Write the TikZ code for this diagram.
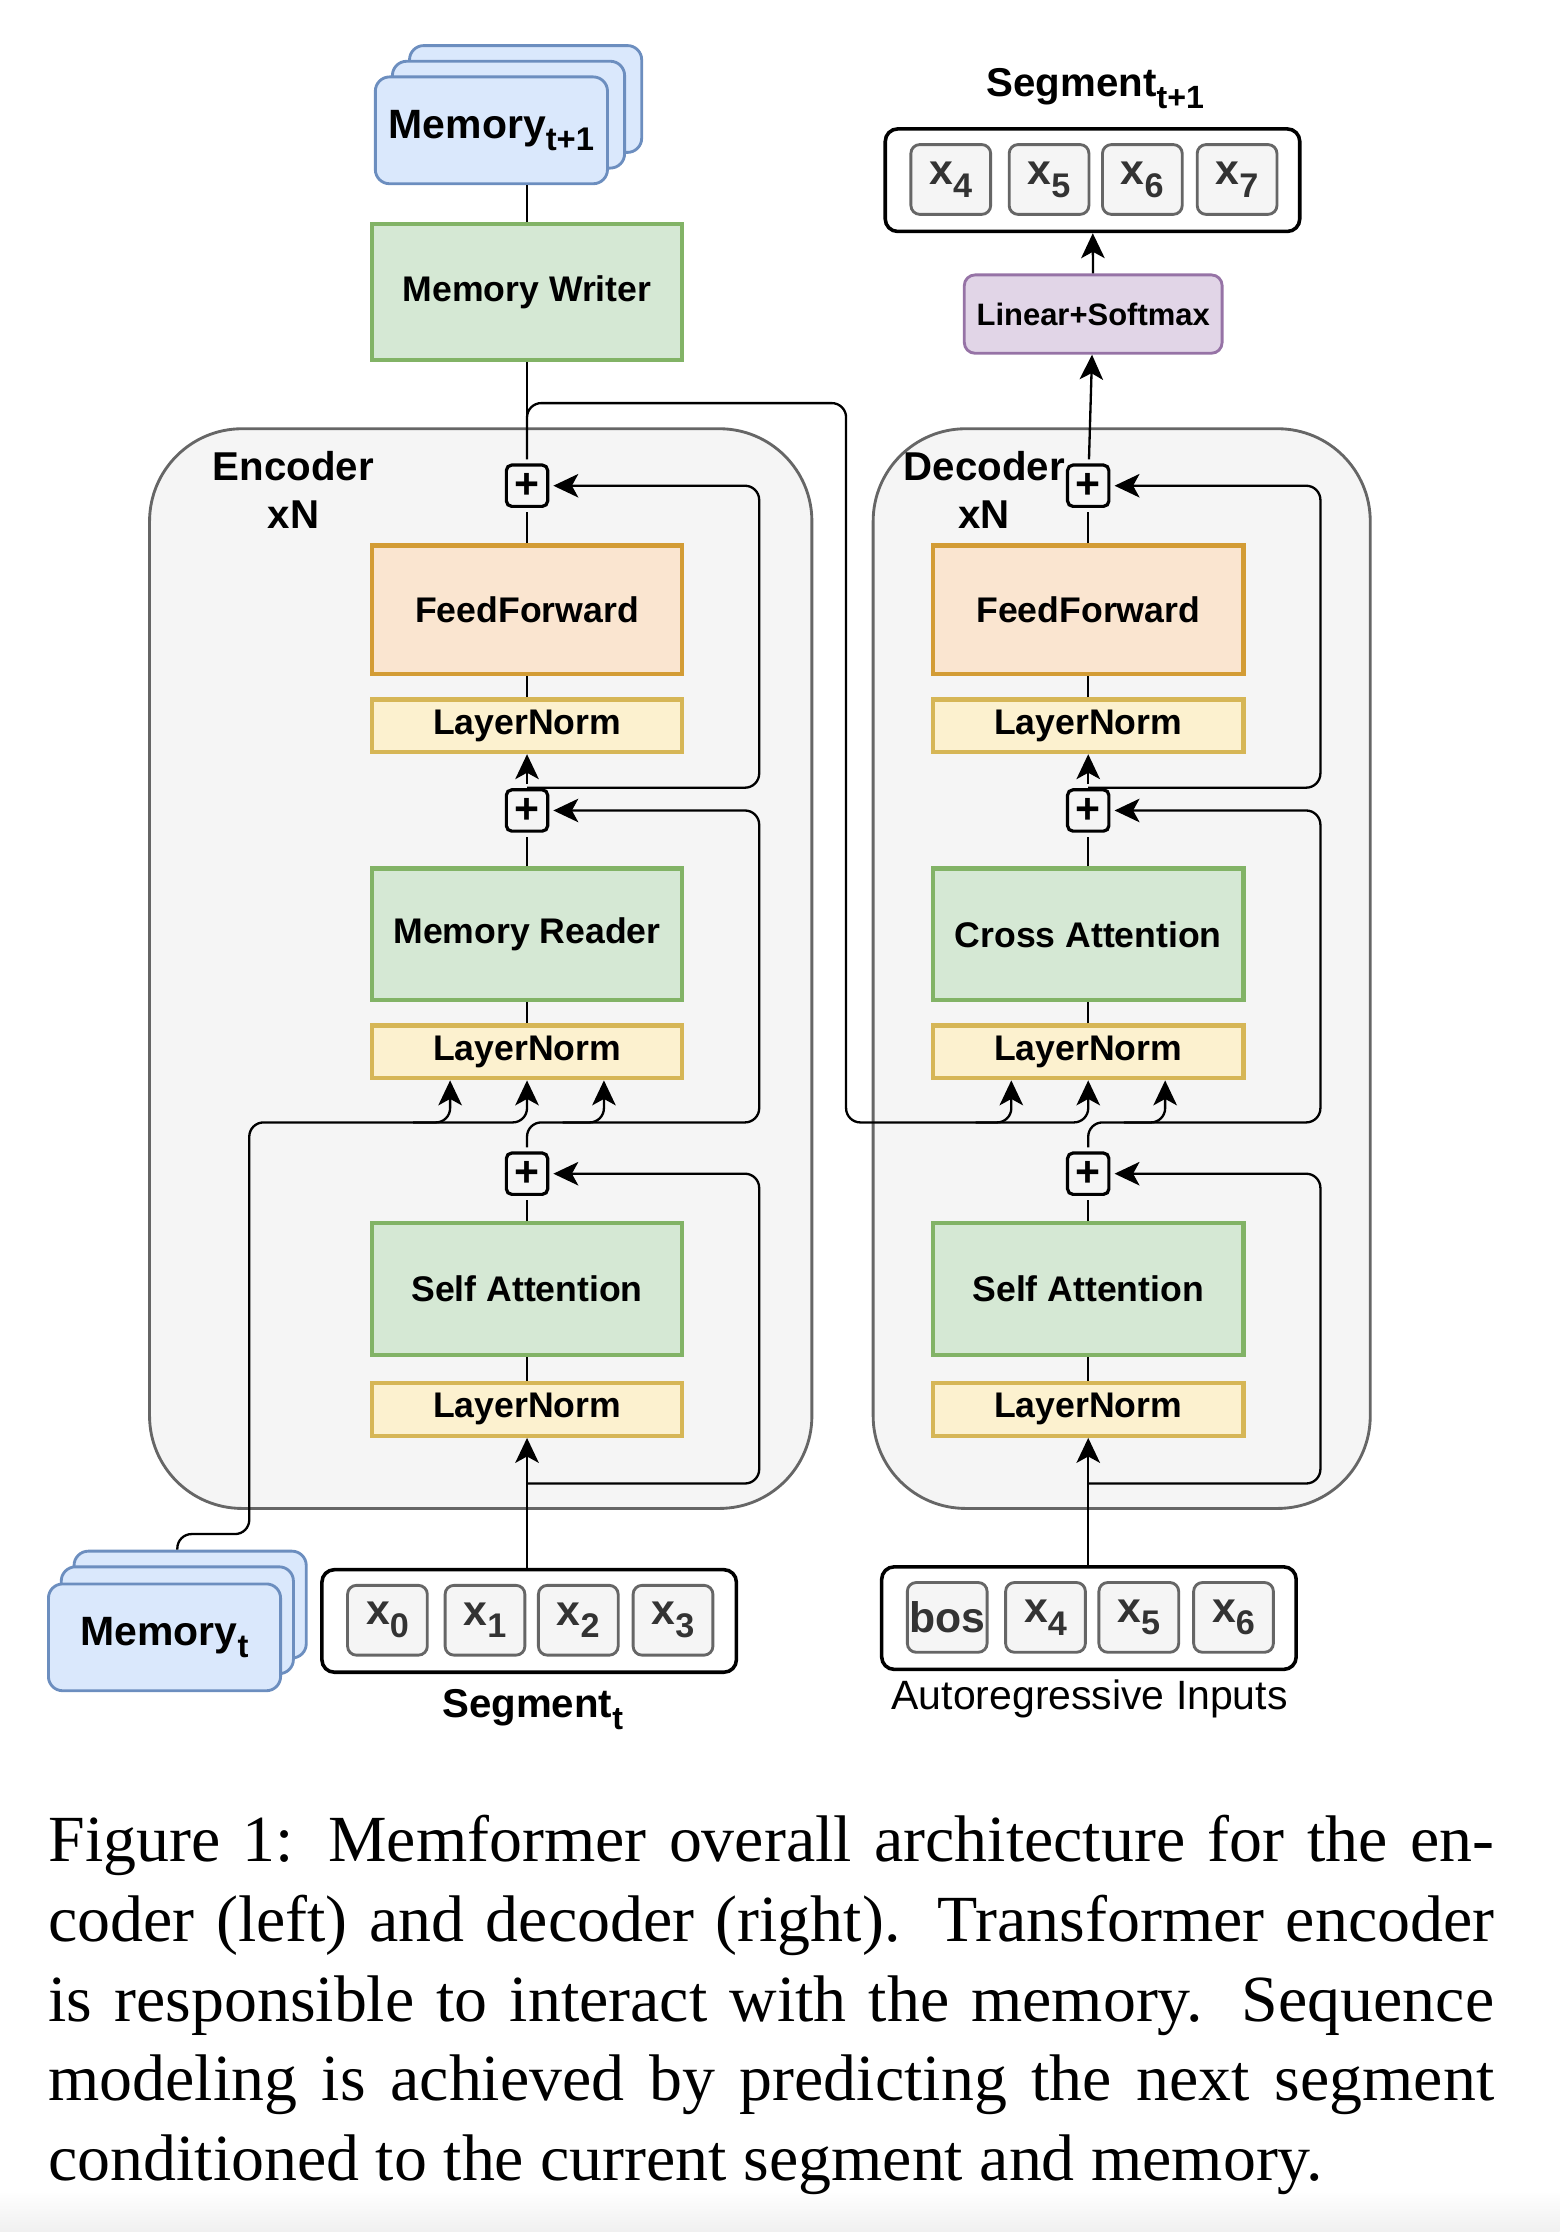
\documentclass[tikz,border=0pt]{standalone}
\usepackage{fontspec}
\setmainfont{Liberation Sans}
\newfontfamily\capfont{Liberation Serif}
\usetikzlibrary{calc,positioning,arrows.meta}

\definecolor{grnF}{HTML}{D5E8D4}\definecolor{grnD}{HTML}{82B366}
\definecolor{ornF}{HTML}{FAE5D0}\definecolor{ornD}{HTML}{D39C35}
\definecolor{ylwF}{HTML}{FCF1CF}\definecolor{ylwD}{HTML}{D6B656}
\definecolor{bluF}{HTML}{DAE8FC}\definecolor{bluD}{HTML}{6C8EBF}
\definecolor{prpF}{HTML}{E1D5E7}\definecolor{prpD}{HTML}{9673A6}
\definecolor{gryF}{HTML}{F5F5F5}\definecolor{gryD}{HTML}{666666}
\definecolor{txtG}{HTML}{333333}

\newcommand\dsub[1]{\raisebox{-0.3em}{\scalebox{0.8}{#1}}}

\tikzset{
  wire/.style={line width=0.65pt},
  arr/.style={-{Stealth[length=7pt,width=6.6pt,inset=1.8pt]}},
  rc/.style={rounded corners=4pt},
  blk/.style={line width=1.2pt, minimum width=87.2pt, inner sep=0pt, font=\bfseries\fontsize{10}{12}\selectfont},
  attn/.style={blk, draw=grnD, fill=grnF, minimum height=37pt},
  ff/.style={blk, draw=ornD, fill=ornF, minimum height=36pt},
  lnorm/.style={blk, draw=ylwD, fill=ylwF, minimum height=14.8pt},
  addbox/.style={draw, line width=0.9pt, rounded corners=1.5pt, fill=gryF, minimum size=11.6pt, inner sep=0pt, outer sep=1.6pt, font=\bfseries\fontsize{12}{12}\selectfont},
  cont/.style={draw=gryD, fill=gryF, line width=0.8pt, rounded corners=26pt},
  mem/.style={draw=bluD, fill=bluF, line width=0.8pt, rounded corners=4pt, minimum width=65.2pt, minimum height=30pt, inner sep=0pt, font=\bfseries\fontsize{11.5}{13}\selectfont},
  seqbox/.style={draw, fill=white, line width=1pt, rounded corners=3.5pt, minimum width=116.4pt, minimum height=28.8pt},
  tok/.style={draw=gryD, fill=gryF, text=txtG, line width=0.8pt, rounded corners=2.5pt, minimum width=22.4pt, minimum height=19.6pt, inner sep=0pt, font=\bfseries\fontsize{12}{13}\selectfont},
  lbl/.style={font=\bfseries\fontsize{11.3}{13.6}\selectfont, align=center},
  capline/.style={anchor=base west, inner sep=0pt, font=\capfont\fontsize{18.5}{22.4}\selectfont}
}

\begin{document}
\begin{tikzpicture}[x=0.4pt,y=-0.4pt]
\useasboundingbox (0,0) rectangle (1095,1567);
\shade[top color=white,bottom color=black!6] (0,1538) rectangle (1095,1567);

% encoder / decoder blocks
\node[cont, minimum width=186pt, minimum height=303.2pt] (encBox) at (337.5,680) {};
\node[cont, minimum width=139.6pt, minimum height=303.2pt] (decBox) at (787.5,680) {};
\node[lbl] (encLbl) at (206,344) {Encoder\\xN};

\foreach \c/\x/\mid in {enc/370/Memory Reader,dec/764/Cross Attention}{
  \node[addbox] (\c PlusA) at (\x,341) {+};
  \node[ff] (\c FF) at (\x,428) {FeedForward};
  \node[lnorm] (\c LNa) at (\x,509.5) {LayerNorm};
  \node[addbox] (\c PlusB) at (\x,569) {+};
  \node[attn] (\c Mid) at (\x,656) {\mid};
  \node[lnorm] (\c LNb) at (\x,738.5) {LayerNorm};
  \node[addbox] (\c PlusC) at (\x,824) {+};
  \node[attn] (\c SA) at (\x,905) {Self Attention};
  \node[lnorm] (\c LNc) at (\x,989.5) {LayerNorm};
  \draw[wire] (\c LNc) -- (\c SA);
  \draw[wire] (\c SA) -- (\c PlusC);
  \draw[wire] (\c LNb) -- (\c Mid);
  \draw[wire] (\c Mid) -- (\c PlusB);
  \draw[wire,arr] (\c PlusB) -- (\c LNa);
  \draw[wire] (\c LNa) -- (\c FF);
  \draw[wire] (\c FF) -- (\c PlusA);
  % residual paths
  \coordinate (\c J) at ($(\c PlusC)+(0,-36)$);
  \draw[wire,arr,rc] ($(\c LNc.south)+(0,32)$) -| ($(\c PlusC)+(163,40)$) |- (\c PlusC);
  \draw[wire,arr,rc] (\c PlusC.north) -- (\c J) -| ($(\c PlusB)+(163,60)$) |- (\c PlusB);
  \draw[wire,arr,rc] ($(\c J)+(25,0)$) -| ($(\c LNb.south)+(54,0)$);
  \draw[wire,arr,rc] ($(\c PlusB)+(0,-16)$) -| ($(\c PlusA)+(163,60)$) |- (\c PlusA);
}
\node[lbl] (decLbl) at (691,344) {Decoder\\xN};

% memory
\node[draw=grnD, fill=grnF, blk, minimum height=38pt] (encMW) at (370,205) {Memory Writer};
\foreach \i/\dx/\dy in {3/24/-22,2/12/-11}
  \node[mem] (memN\i) at ($(345,91.5)+(\dx,\dy)$) {};
\node[mem] (memN) at (345,91.5) {Memory\dsub{t+1}};
\foreach \i/\dx/\dy in {3/18/-23,2/9/-12}
  \node[mem] (memT\i) at ($(115.5,1149.5)+(\dx,\dy)$) {};
\node[mem] (memT) at (115.5,1149.5) {Memory\dsub{t}};
\draw[wire] (encMW.north) -- (encMW.north |- memN.south);
\draw[wire] (encPlusA.north) -- (encMW.south);

\coordinate (memJ) at (290,788);
\draw[wire,arr,rc] ($(memT3.north)+(-9,0)$) |- (175,1077) -- (175,788) -| (encLNb.south);
\draw[wire,arr,rc] (memJ) -| ($(encLNb.south)+(-54,0)$);

% encoder output into cross attention
\coordinate (bridgeA) at (594,283);
\coordinate (bridgeB) at (594,788);
\draw[wire,arr,rc] (encPlusA.north) |- (bridgeA) -- (bridgeB) -| ($(decLNb.south)+(-54,0)$);
\draw[wire,arr,rc] ($(bridgeB)+(91,0)$) -| (decLNb.south);

% inputs
\node[seqbox] (segT) at (371.5,1138) {};
\foreach \t/\x in {0/272,1/340.5,2/406,3/472.5}
  \node[tok] (segT\t) at (\x,1137.5) {x\dsub{\t}};
\node[lbl] (segTLbl) at (374,1200) {Segment\dsub{t}};
\draw[wire,arr] (encLNc.south |- segT.north) -- (encLNc.south);

\node[seqbox] (arIn) at (764.5,1136) {};
\node[tok] (arBos) at (665,1135.5) {bos};
\foreach \t/\x in {4/734,5/799.5,6/866}
  \node[tok] (ar\t) at (\x,1135.5) {x\dsub{\t}};
\node[font=\fontsize{11.5}{13}\selectfont] (arLbl) at (765,1193) {Autoregressive Inputs};
\draw[wire,arr] (decLNc.south |- arIn.north) -- (decLNc.south);

% output
\node[draw=prpD, fill=prpF, line width=0.8pt, rounded corners=3pt, minimum width=72.4pt, minimum height=22pt, inner sep=0pt, font=\bfseries\fontsize{8.7}{10}\selectfont] (linSm) at (767.5,220.5) {Linear+Softmax};
\node[seqbox] (segN) at (767,126.5) {};
\foreach \t/\x in {4/667.5,5/736.5,6/802,7/868.5}
  \node[tok] (segN\t) at (\x,126) {x\dsub{\t}};
\node[lbl] (segNLbl) at (769,62) {Segment\dsub{t+1}};
\draw[wire,arr] (decPlusA) -- (linSm);
\draw[wire,arr] (linSm) -- (segN);

% caption
\node[capline] (cap1) at (33.5,1307) {\makebox[406pt][s]{Figure 1: Memformer overall architecture for the en-}};
\node[capline] (cap2) at (33.5,1363) {\makebox[406pt][s]{coder (left) and decoder (right). Transformer encoder}};
\node[capline] (cap3) at (33.5,1419) {\makebox[406pt][s]{is responsible to interact with the memory. Sequence}};
\node[capline] (cap4) at (33.5,1475) {\makebox[406pt][s]{modeling is achieved by predicting the next segment}};
\node[capline] (cap5) at (33.5,1531) {conditioned to the current segment and memory.};
\end{tikzpicture}
\end{document}
